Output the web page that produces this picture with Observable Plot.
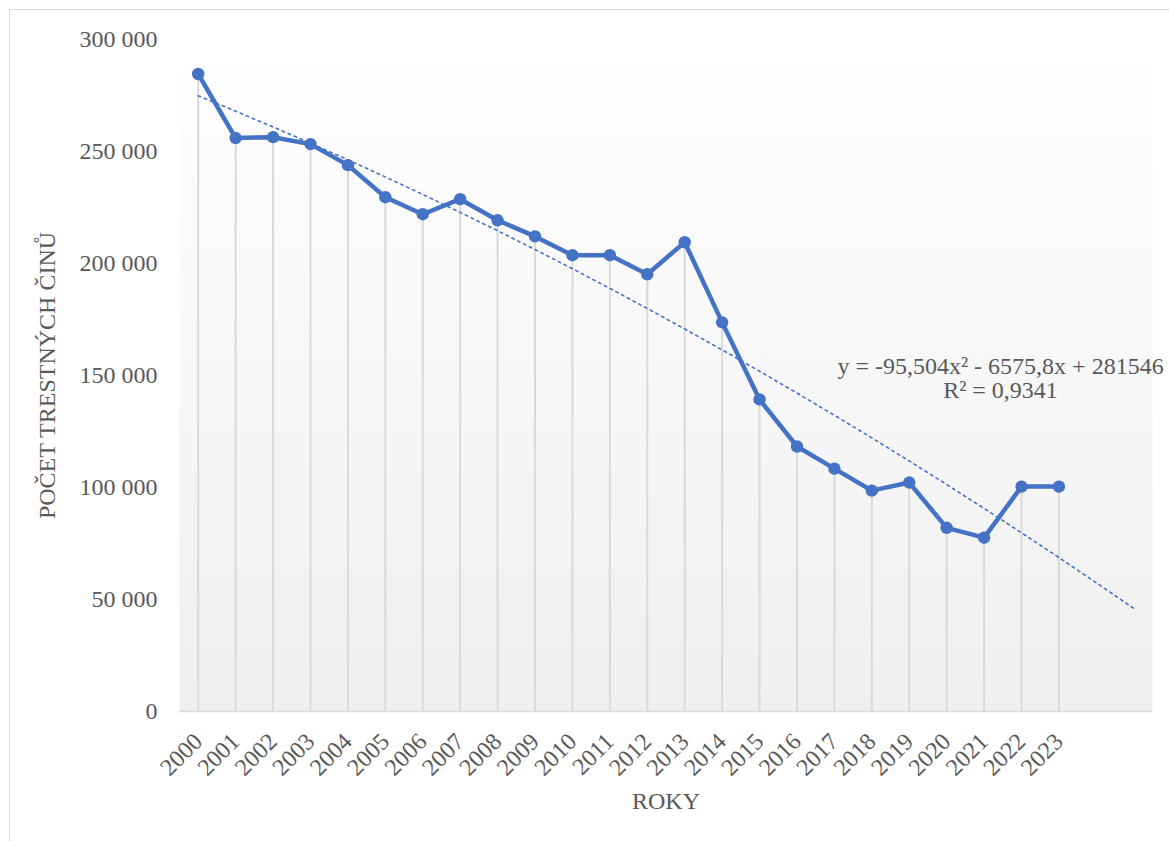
<!DOCTYPE html>
<html>
<head>
<meta charset="utf-8">
<script src="https://cdn.jsdelivr.net/npm/d3@7"></script>
<script src="https://cdn.jsdelivr.net/npm/@observablehq/plot@0.6"></script>
<style>
  html, body { margin: 0; padding: 0; background: #ffffff; overflow: hidden; }
  #wrap { position: relative; width: 1169px; height: 841px; }
  #border { position: absolute; left: 9px; top: 9px; width: 1300px; height: 1000px; border: 1.5px solid #d9d9d9; box-sizing: border-box; pointer-events: none; }
  #chart { position: absolute; left: 0; top: 0; }
  #chart svg, #chart svg text { font-family: "Liberation Serif", "Times New Roman", "DejaVu Serif", serif !important; }
</style>
</head>
<body>
<div id="wrap">
  <div id="chart"></div>
  <div id="border"></div>
</div>
<script>
// ---- data ----
const years = [2000, 2001, 2002, 2003, 2004, 2005, 2006, 2007, 2008, 2009, 2010, 2011,
               2012, 2013, 2014, 2015, 2016, 2017, 2018, 2019, 2020, 2021, 2022, 2023];
const counts = [284600, 256000, 256400, 253300, 243900, 229600, 222000, 228700, 219300, 212100, 203700, 203700,
                195200, 209500, 173700, 139300, 118300, 108400, 98600, 102200, 82000, 77600, 100400, 100400];
// trendline (polynomial, order 2) as given in the chart, with 2 periods forecast
const trendYears = [2000, 2001, 2002, 2003, 2004, 2005, 2006, 2007, 2008, 2009, 2010, 2011, 2012,
                    2013, 2014, 2015, 2016, 2017, 2018, 2019, 2020, 2021, 2022, 2023, 2024, 2025];
const trendCoef = [-95.504, -6575.8, 281546]; // a*x^2 + b*x + c, x = 1..26
const trendLabel = "y = -95,504x² - 6575,8x + 281546\nR² = 0,9341";
const yTicks = [0, 50000, 100000, 150000, 200000, 250000, 300000];
const yTickLabels = ["0", "50 000", "100 000", "150 000", "200 000", "250 000", "300 000"];
const xTitle = "ROKY";
const yTitle = "POČET TRESTNÝCH ČINŮ";

const data = years.map((year, i) => ({year, count: counts[i]}));
const trend = trendYears.map((year, i) => {
  const x = i + 1;
  return {year, value: trendCoef[0] * x * x + trendCoef[1] * x + trendCoef[2]};
});

const FONT = '"Liberation Serif", "Times New Roman", serif';
const TEXT = "#595959";
const BLUE = "#4472C4";

const plot = Plot.plot({
  width: 1169,
  height: 841,
  marginLeft: 179,
  marginRight: 17,
  marginTop: 39,
  marginBottom: 130,
  style: {fontFamily: FONT, fontSize: "24px", color: TEXT, background: "transparent", overflow: "visible"},
  x: {type: "linear", domain: [1999.5, 2025.5], axis: null},
  y: {domain: [0, 300000]},
  marks: [
    Plot.frame({fill: "url(#bgGrad)", stroke: "none"}),
    Plot.ruleX(data, {x: "year", y1: 0, y2: "count", stroke: "#d9d9d9", strokeWidth: 2}),
    Plot.ruleY([0], {stroke: "#d9d9d9", strokeWidth: 1.5}),
    Plot.line(data, {x: "year", y: "count", stroke: BLUE, strokeWidth: 4.5, strokeLinejoin: "round", strokeLinecap: "round"}),
    Plot.dot(data, {x: "year", y: "count", r: 6.2, fill: BLUE, stroke: "none"}),
    Plot.line(trend, {x: "year", y: "value", stroke: BLUE, strokeWidth: 1.6, strokeDasharray: "2.5,4"}),
    Plot.axisY({ticks: yTicks, tickFormat: d => yTickLabels[yTicks.indexOf(d)], tickSize: 0, tickPadding: 22,
                label: null, fontSize: 24, fill: TEXT, fontFamily: FONT}),
    Plot.text(years, {x: d => d, frameAnchor: "bottom", dy: 26, rotate: -45, textAnchor: "end",
                      lineAnchor: "middle", text: d => String(d), fontSize: 24, fill: TEXT, fontFamily: FONT}),
    Plot.text([xTitle], {frameAnchor: "bottom", dy: 90, textAnchor: "middle", lineAnchor: "middle",
                         text: d => d, fontSize: 24, fill: TEXT, fontFamily: FONT}),
    Plot.text([yTitle], {frameAnchor: "left", dx: -132, rotate: -90, textAnchor: "middle", lineAnchor: "middle",
                         text: d => d, fontSize: 24, fill: TEXT, fontFamily: FONT}),
    Plot.text([trendLabel], {frameAnchor: "right", dx: -152, dy: 2.5, textAnchor: "middle", lineAnchor: "middle",
                             lineHeight: 1.04, text: d => d, fontSize: 24, fill: TEXT, fontFamily: FONT})
  ]
});

d3.select(plot).insert("defs", ":first-child").html(
  '<linearGradient id="bgGrad" x1="0" y1="0" x2="0" y2="1">' +
  '<stop offset="0" stop-color="#ffffff"/>' +
  '<stop offset="1" stop-color="#efefef"/>' +
  '</linearGradient>'
);

document.getElementById("chart").appendChild(plot);
</script>
</body>
</html>
